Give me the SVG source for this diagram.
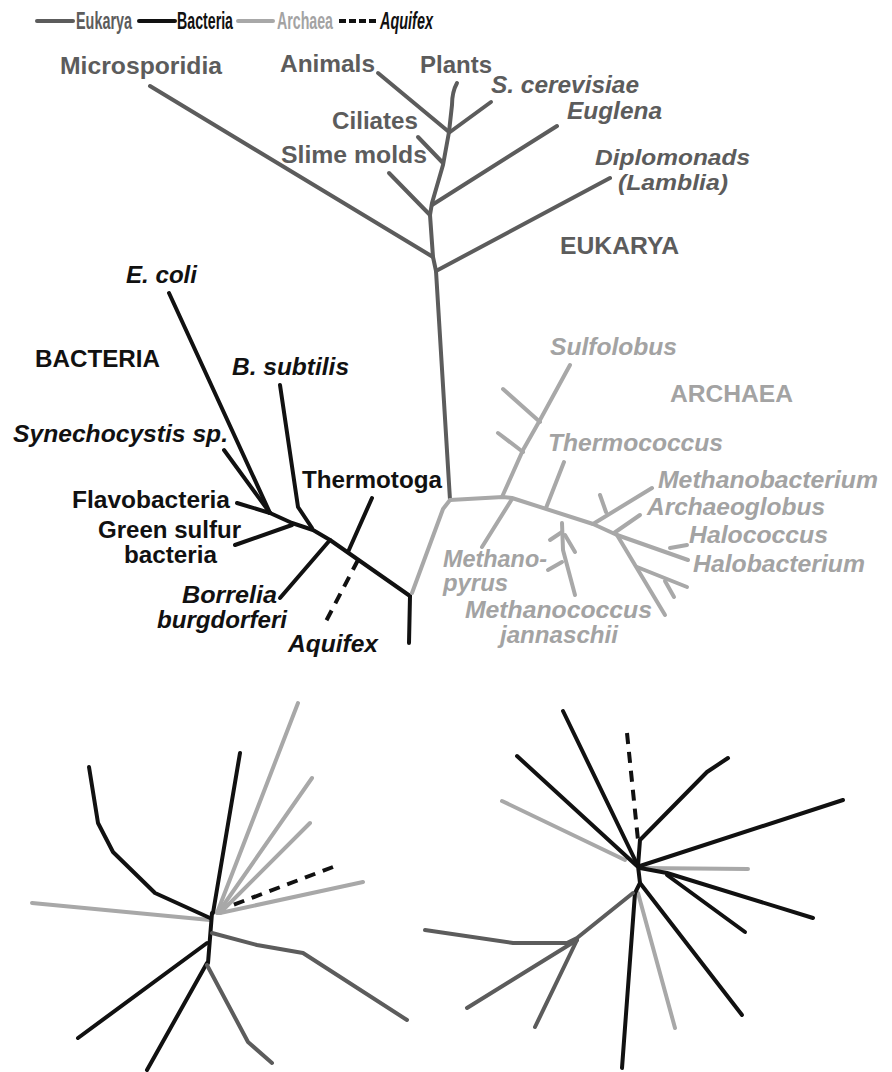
<svg xmlns="http://www.w3.org/2000/svg" width="892" height="1072" viewBox="0 0 892 1072">
<style>
.eu{stroke:#5c5c5c;stroke-width:4;fill:none;stroke-linecap:round;stroke-linejoin:round}
.ba{stroke:#111;stroke-width:4;fill:none;stroke-linecap:round;stroke-linejoin:round}
.ar{stroke:#a8a8a8;stroke-width:4;fill:none;stroke-linecap:round;stroke-linejoin:round}
.aq{stroke:#111;stroke-width:4;fill:none;stroke-dasharray:11 8}
text{font-family:"Liberation Sans",Arial,sans-serif;font-size:24px;font-weight:bold}
.te{fill:#5c5c5c}.tb{fill:#111}.ta{fill:#a3a3a3}
.it{font-style:italic}
.lg{font-size:23px}
.sm{font-size:23px}
.xs{font-size:22px}
</style>
<rect width="892" height="1072" fill="#fff"/>
<g id="legend">
<line class="eu" x1="37" y1="21" x2="73" y2="21"/>
<text class="te lg" x="76" y="29" textLength="56" lengthAdjust="spacingAndGlyphs">Eukarya</text>
<line class="ba" x1="139" y1="21" x2="175" y2="21"/>
<text class="tb lg" x="177" y="29" textLength="56" lengthAdjust="spacingAndGlyphs">Bacteria</text>
<line class="ar" x1="238" y1="21" x2="273" y2="21"/>
<text class="ta lg" x="277" y="29" textLength="56" lengthAdjust="spacingAndGlyphs">Archaea</text>
<line class="aq" x1="339" y1="21" x2="376" y2="21" style="stroke-dasharray:7 3"/>
<text class="tb lg it" x="380" y="29" textLength="53" lengthAdjust="spacingAndGlyphs">Aquifex</text>
</g>
<g id="connectors">
<g id="eukarya-tree">
<path class="eu" d="M150,86 L433,257"/>
<path class="eu" d="M378,73 L449,132"/>
<path class="eu" d="M457,83 Q452,92 452,105 L449,132"/>
<path class="eu" d="M491,102 L450,132"/>
<path class="eu" d="M449,132 L443,165 L432,203 L430,215 L433,257 L436,271 L450,500"/>
<path class="eu" d="M418,137 L443,163"/>
<path class="eu" d="M389,173 L430,215"/>
<path class="eu" d="M557,126 L432,205"/>
<path class="eu" d="M610,178 L436,271"/>
</g>
<g id="bacteria-tree">
<path class="ba" d="M410,596 L330,540 L313,530 L292,523 L270,513"/>
<path class="ba" d="M410,596 L409,643"/>
<path class="ba" d="M169,293 L270,513"/>
<path class="ba" d="M224,450 L270,513"/>
<path class="ba" d="M237,503 L270,513"/>
<path class="ba" d="M235,545 L292,525"/>
<path class="ba" d="M280,385 L298,507 L312,528"/>
<path class="ba" d="M372,498 L348,552"/>
<path class="ba" d="M280,598 L330,540"/>
<path class="aq" d="M358,560 L323,627"/>
</g>
<g id="archaea-tree">
<path class="ar" d="M450,500 L443,509 L412,593"/>
<path class="ar" d="M450,500 L503,497 L512,498 L593,524 L617,535 L688,560"/>
<path class="ar" d="M502,497 L523,450 L540,420 L570,365"/>
<path class="ar" d="M503,389 L540,422"/>
<path class="ar" d="M498,433 L523,452"/>
<path class="ar" d="M564,462 L546,508"/>
<path class="ar" d="M512,499 L482,547"/>
<path class="ar" d="M562,523 L563,550 L575,595"/>
<path class="ar" d="M562,532 L550,540"/>
<path class="ar" d="M565,535 L575,552"/>
<path class="ar" d="M562,562 L548,570"/>
<path class="ar" d="M593,524 L652,488"/>
<path class="ar" d="M600,495 L606,512"/>
<path class="ar" d="M614,533 L640,515"/>
<path class="ar" d="M670,548 L687,545"/>
<path class="ar" d="M617,535 L665,615"/>
<path class="ar" d="M637,567 L687,587"/>
<path class="ar" d="M665,581 L674,597"/>
</g>
<g id="bottom-left-tree">
<path class="ar" d="M298,703 L217,913"/>
<path class="ar" d="M312,778 L218,913"/>
<path class="ar" d="M310,823 L220,913"/>
<path class="ar" d="M363,882 L220,913"/>
<path class="ar" d="M32,903 L210,920"/>
<path class="ba" d="M89,767 L98,823 L113,852 L155,893 L210,918"/>
<path class="ba" d="M240,753 L213,913"/>
<path class="aq" d="M333,867 L233,905"/>
<path class="ba" d="M212,913 L208,963"/>
<path class="ba" d="M207,943 L78,1038"/>
<path class="ba" d="M207,963 L147,1070"/>
<path class="eu" d="M212,933 L257,945 L303,953 L407,1020"/>
<path class="eu" d="M207,965 L248,1042 L272,1063"/>
</g>
<g id="bottom-right-tree">
<path class="ar" d="M502,801 L625,860"/>
<path class="ar" d="M748,869 L640,868"/>
<path class="ar" d="M638,893 L675,1028"/>
<path class="ba" d="M563,711 L638,866"/>
<path class="ba" d="M517,756 L637,866"/>
<path class="aq" d="M627,733 L638,840"/>
<path class="ba" d="M728,758 L707,772 L640,840 L638,866"/>
<path class="ba" d="M843,800 L640,866"/>
<path class="ba" d="M813,918 L667,873 L640,868"/>
<path class="ba" d="M745,932 L667,875"/>
<path class="ba" d="M638,866 L640,883 L635,893"/>
<path class="ba" d="M640,883 L742,1015"/>
<path class="ba" d="M635,893 L622,1068"/>
<path class="eu" d="M633,893 L577,938 L567,943 L513,943 L425,930"/>
<path class="eu" d="M577,940 L467,1008"/>
<path class="eu" d="M577,940 L535,1027"/>
</g>
</g>
<g id="eukarya-labels">
<text id="microsporidia" class="te" x="60" y="74" textLength="162" lengthAdjust="spacingAndGlyphs">Microsporidia</text>
<text id="animals" class="te" x="280" y="72" textLength="95" lengthAdjust="spacingAndGlyphs">Animals</text>
<text id="plants" class="te" x="420" y="73" textLength="72" lengthAdjust="spacingAndGlyphs">Plants</text>
<text id="scerevisiae" class="te it" x="491" y="93" textLength="148" lengthAdjust="spacingAndGlyphs">S. cerevisiae</text>
<text id="euglena" class="te it" x="567" y="119" textLength="95" lengthAdjust="spacingAndGlyphs">Euglena</text>
<text id="ciliates" class="te" x="332" y="129" textLength="86" lengthAdjust="spacingAndGlyphs">Ciliates</text>
<text id="slimemolds" class="te" x="281" y="163" textLength="146" lengthAdjust="spacingAndGlyphs">Slime molds</text>
<text id="diplomonads" class="te it xs" x="595" y="165" textLength="155" lengthAdjust="spacingAndGlyphs">Diplomonads</text>
<text id="lamblia" class="te it xs" x="618" y="190" textLength="110" lengthAdjust="spacingAndGlyphs">(Lamblia)</text>
<text id="eukarya" class="te" x="560" y="254" textLength="119" lengthAdjust="spacingAndGlyphs">EUKARYA</text>
</g>
<g id="bacteria-labels">
<text id="ecoli" class="tb it" x="126" y="283" textLength="71" lengthAdjust="spacingAndGlyphs">E. coli</text>
<text id="bacteria" class="tb" x="35" y="367" textLength="125" lengthAdjust="spacingAndGlyphs">BACTERIA</text>
<text id="bsubtilis" class="tb it" x="232" y="375" textLength="117" lengthAdjust="spacingAndGlyphs">B. subtilis</text>
<text id="synechocystis" class="tb it" x="13" y="442" textLength="215" lengthAdjust="spacingAndGlyphs">Synechocystis sp.</text>
<text id="thermotoga" class="tb" x="302" y="488" textLength="140" lengthAdjust="spacingAndGlyphs">Thermotoga</text>
<text id="flavobacteria" class="tb" x="72" y="508" textLength="158" lengthAdjust="spacingAndGlyphs">Flavobacteria</text>
<text id="greensulfur" class="tb" x="98" y="538" textLength="143" lengthAdjust="spacingAndGlyphs">Green sulfur</text>
<text id="greensulfur2" class="tb" x="124" y="563" textLength="93" lengthAdjust="spacingAndGlyphs">bacteria</text>
<text id="borrelia" class="tb it" x="182" y="603" textLength="95" lengthAdjust="spacingAndGlyphs">Borrelia</text>
<text id="burgdorferi" class="tb it" x="157" y="628" textLength="130" lengthAdjust="spacingAndGlyphs">burgdorferi</text>
<text id="aquifex" class="tb it" x="288" y="652" textLength="90" lengthAdjust="spacingAndGlyphs">Aquifex</text>
</g>
<g id="archaea-labels">
<text id="sulfolobus" class="ta it" x="550" y="355" textLength="127" lengthAdjust="spacingAndGlyphs">Sulfolobus</text>
<text id="archaea" class="ta" x="670" y="402" textLength="123" lengthAdjust="spacingAndGlyphs">ARCHAEA</text>
<text id="thermococcus" class="ta it" x="548" y="451" textLength="175" lengthAdjust="spacingAndGlyphs">Thermococcus</text>
<text id="methanobacterium" class="ta it" x="658" y="488" textLength="220" lengthAdjust="spacingAndGlyphs">Methanobacterium</text>
<text id="archaeoglobus" class="ta it" x="647" y="515" textLength="178" lengthAdjust="spacingAndGlyphs">Archaeoglobus</text>
<text id="halococcus" class="ta it" x="689" y="543" textLength="139" lengthAdjust="spacingAndGlyphs">Halococcus</text>
<text id="halobacterium" class="ta it" x="693" y="572" textLength="172" lengthAdjust="spacingAndGlyphs">Halobacterium</text>
<text id="methanopyrus" class="ta it sm" x="443" y="567" textLength="104" lengthAdjust="spacingAndGlyphs">Methano-</text>
<text id="methanopyrus2" class="ta it sm" x="443" y="591" textLength="65" lengthAdjust="spacingAndGlyphs">pyrus</text>
<text id="methanococcus" class="ta it sm" x="465" y="618" textLength="187" lengthAdjust="spacingAndGlyphs">Methanococcus</text>
<text id="jannaschii" class="ta it sm" x="500" y="643" textLength="118" lengthAdjust="spacingAndGlyphs">jannaschii</text>
</g>
</svg>
